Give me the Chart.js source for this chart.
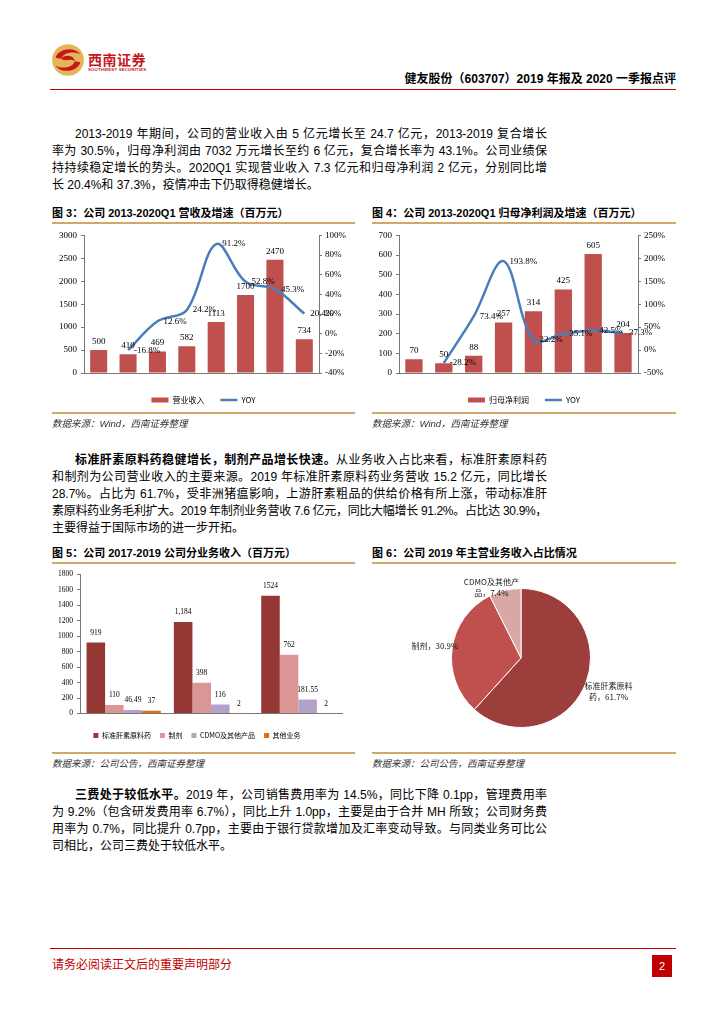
<!DOCTYPE html>
<html lang="zh-CN">
<head>
<meta charset="utf-8">
<title>健友股份（603707）2019 年报及 2020 一季报点评</title>
<script src="https://cdn.jsdelivr.net/npm/chart.js@4.4.1/dist/chart.umd.min.js"></script>
<style>
  html, body { margin: 0; padding: 0; background: #fff; }
  body { width: 724px; height: 1024px; position: relative; overflow: hidden;
         font-family: "Liberation Sans", "Noto Sans CJK SC", sans-serif; color: #000; }
  .abs { position: absolute; white-space: nowrap; }
  .rule { position: absolute; height: 0; }
  .red { border-top: 1.5px solid #C00000; left: 50px; width: 626px; }
  .gold { border-top: 2px solid #D3A76B; }
  .title { position: absolute; font-size: 11px; font-weight: bold; line-height: 14px; white-space: nowrap; }
  .src { position: absolute; font-size: 9.5px; font-style: italic; color: #333; line-height: 12px; white-space: nowrap; }
  .ln { position: absolute; left: 52px; width: 495px; height: 16px; line-height: 16px; font-size: 12px;
        white-space: nowrap; text-align: justify; text-align-last: justify; }
  .ln.ind { left: 75px; width: 472px; }
  .ln.last { text-align-last: left; }
  canvas { position: absolute; }
</style>
</head>
<body>

<!-- header -->
<svg class="abs" style="left:51px;top:43px" width="34" height="34" viewBox="0 0 30 30">
  <circle cx="15" cy="15" r="14" fill="#E4B65A"/>
  <path d="M4 13 C7 4, 21 3, 26 10 C20 7, 11 8, 9 14 Z" fill="#C8161D"/>
  <path d="M26 17 C23 26, 9 27, 4 20 C10 23, 19 22, 21 16 Z" fill="#C8161D"/>
  <path d="M9 14 C11 10, 20 10, 21 16 C17 13, 13 17, 9 14 Z" fill="#C8161D"/>
</svg>
<div class="abs" style="left:88px;top:50px;font:bold 14px 'Noto Sans CJK SC';letter-spacing:0.5px;color:#C8161D;line-height:18px">西南证券</div>
<div class="abs" style="left:88px;top:67px;font:bold 4.3px 'Liberation Sans';letter-spacing:0.2px;color:#C8161D;line-height:6px">SOUTHWEST SECURITIES</div>
<div class="abs" style="right:48px;top:71px;font-size:12px;font-weight:bold;line-height:16px">健友股份（603707）2019 年报及 2020 一季报点评</div>
<div class="rule red" style="top:89px"></div>

<!-- paragraph 1 -->
<div class="ln ind" style="top:126px">2013-2019 年期间，公司的营业收入由 5 亿元增长至 24.7 亿元，2013-2019 复合增长</div>
<div class="ln" style="top:143px">率为 30.5%，归母净利润由 7032 万元增长至约 6 亿元，复合增长率为 43.1%。公司业绩保</div>
<div class="ln" style="top:160px">持持续稳定增长的势头。2020Q1 实现营业收入 7.3 亿元和归母净利润 2 亿元，分别同比增</div>
<div class="ln last" style="top:177px">长 20.4%和 37.3%，疫情冲击下仍取得稳健增长。</div>

<!-- figure 3 / 4 -->
<div class="title" style="left:52px;top:206px">图 3：公司 2013-2020Q1 营收及增速（百万元）</div>
<div class="title" style="left:372px;top:206px">图 4：公司 2013-2020Q1 归母净利润及增速（百万元）</div>
<div class="rule gold" style="left:52px;width:303px;top:222px"></div>
<div class="rule gold" style="left:372px;width:304px;top:222px"></div>
<canvas id="revChart" width="303" height="188" style="left:52px;top:226px"></canvas>
<canvas id="profitChart" width="304" height="188" style="left:372px;top:226px"></canvas>
<div class="rule gold" style="left:52px;width:303px;top:412px"></div>
<div class="rule gold" style="left:372px;width:304px;top:412px"></div>
<div class="src" style="left:52px;top:418px">数据来源：Wind，西南证券整理</div>
<div class="src" style="left:372px;top:418px">数据来源：Wind，西南证券整理</div>

<!-- paragraph 2 -->
<div class="ln ind" style="top:452px"><b>标准肝素原料药稳健增长，制剂产品增长快速。</b>从业务收入占比来看，标准肝素原料药</div>
<div class="ln" style="top:469px">和制剂为公司营业收入的主要来源。2019 年标准肝素原料药业务营收 15.2 亿元，同比增长</div>
<div class="ln" style="top:486px">28.7%。占比为 61.7%，受非洲猪瘟影响，上游肝素粗品的供给价格有所上涨，带动标准肝</div>
<div class="ln" style="top:503px">素原料药业务毛利扩大。2019 年制剂业务营收 7.6 亿元，同比大幅增长 91.2%。占比达 30.9%，</div>
<div class="ln last" style="top:520px">主要得益于国际市场的进一步开拓。</div>

<!-- figure 5 / 6 -->
<div class="title" style="left:52px;top:546px">图 5：公司 2017-2019 公司分业务收入（百万元）</div>
<div class="title" style="left:372px;top:546px">图 6：公司 2019 年主营业务收入占比情况</div>
<div class="rule gold" style="left:52px;width:303px;top:562px"></div>
<div class="rule gold" style="left:372px;width:304px;top:562px"></div>
<canvas id="segChart" width="303" height="183" style="left:52px;top:566px"></canvas>
<canvas id="shareChart" width="304" height="184" style="left:372px;top:566px"></canvas>
<div class="rule gold" style="left:52px;width:303px;top:752px"></div>
<div class="rule gold" style="left:372px;width:304px;top:752px"></div>
<div class="src" style="left:52px;top:758px">数据来源：公司公告，西南证券整理</div>
<div class="src" style="left:372px;top:758px">数据来源：公司公告，西南证券整理</div>

<!-- paragraph 3 -->
<div class="ln ind" style="top:787px"><b>三费处于较低水平。</b>2019 年，公司销售费用率为 14.5%，同比下降 0.1pp，管理费用率</div>
<div class="ln" style="top:804px">为 9.2%（包含研发费用率 6.7%），同比上升 1.0pp，主要是由于合并 MH 所致；公司财务费</div>
<div class="ln" style="top:821px">用率为 0.7%，同比提升 0.7pp，主要由于银行贷款增加及汇率变动导致。与同类业务可比公</div>
<div class="ln last" style="top:838px">司相比，公司三费处于较低水平。</div>

<!-- footer -->
<div class="rule red" style="top:948px"></div>
<div class="abs" style="left:52px;top:957px;font:12px 'Noto Sans CJK SC';line-height:14px;color:#C00000">请务必阅读正文后的重要声明部分</div>
<div class="abs" style="left:652px;top:955px;width:20px;height:22px;background:#C00000;color:#fff;font-size:11px;line-height:22px;text-align:center">2</div>

<script>
    "use strict";

    // Data
    const years = ["2013", "2014", "2015", "2016", "2017", "2018", "2019", "2020Q1"];
    const revenue = [500, 410, 469, 582, 1113, 1700, 2470, 734];
    const revenueYoy = [null, -16.8, 12.6, 24.2, 91.2, 52.8, 45.3, 20.4];
    const netProfit = [70, 50, 88, 257, 314, 425, 605, 204];
    const netProfitYoy = [null, -28.2, 73.4, 193.8, 22.2, 35.1, 42.5, 37.3];

    const segYears = ["2017", "2018", "2019"];
    const segApi = [919, 1184, 1524];
    const segApiText = ["919", "1,184", "1524"];
    const segFormulation = [110, 398, 762];
    const segCdmo = [46.49, 116, 181.55];
    const segOther = [37, 2, 2];

    const shareNames = ["标准肝素原料药", "制剂", "CDMO及其他产品"];
    const shareValues = [61.7, 30.9, 7.4];

    const serif = "'Liberation Serif', 'Times New Roman', serif";
    const cjk = "'Noto Sans CJK SC', sans-serif";
    Chart.defaults.font.family = serif;
    Chart.defaults.color = "#000";
    Chart.defaults.animation = false;

    const plainTick = (v) => String(v);

    // Value labels drawn from the dataset elements
    const valueLabels = {
        id: "valueLabels",
        afterDatasetsDraw(chart) {
            const ctx = chart.ctx;
            chart.data.datasets.forEach((ds, i) => {
                const cfg = ds.valueLabel;
                if (!cfg) return;
                const meta = chart.getDatasetMeta(i);
                ctx.save();
                ctx.font = cfg.font;
                ctx.fillStyle = cfg.color || "#000";
                meta.data.forEach((el, j) => {
                    const v = ds.data[j];
                    if (v === null || v === undefined) return;
                    const text = cfg.text ? cfg.text(v, j) : String(v);
                    if (meta.type === "bar") {
                        ctx.textAlign = "center";
                        ctx.textBaseline = "bottom";
                        ctx.fillText(text, el.x, el.y - cfg.offset);
                    } else if (meta.type === "line") {
                        ctx.textAlign = "left";
                        ctx.textBaseline = "middle";
                        ctx.fillText(text, el.x + cfg.offset, el.y);
                    } else {
                        const mid = (el.startAngle + el.endAngle) / 2;
                        const f = cfg.radial[j];
                        const sh = cfg.shift[j];
                        const cx = el.x + Math.cos(mid) * el.outerRadius * f + sh[0];
                        const cy = el.y + Math.sin(mid) * el.outerRadius * f + sh[1];
                        const lines = wrapText(ctx, text, cfg.maxWidth);
                        ctx.textAlign = "center";
                        ctx.textBaseline = "middle";
                        lines.forEach((t, k) => {
                            ctx.fillText(t, cx, cy + (k - (lines.length - 1) / 2) * cfg.lineHeight);
                        });
                    }
                });
                ctx.restore();
            });
        },
    };

    function wrapText(ctx, text, maxWidth) {
        const out = [];
        let line = "";
        for (const ch of text) {
            if (line && ctx.measureText(line + ch).width > maxWidth) {
                out.push(line);
                line = ch;
            } else {
                line += ch;
            }
        }
        if (line) out.push(line);
        return out;
    }

    function comboChart(canvas, values, yoy, name, left, leftW, rightMin, rightMax, rightStep, rightW) {
        return new Chart(canvas, {
            data: {
                labels: years,
                datasets: [
                    {
                        type: "bar",
                        label: name,
                        data: values,
                        order: 1,
                        backgroundColor: "#C0504D",
                        borderWidth: 0,
                        pointStyle: "rect",
                        categoryPercentage: 1,
                        barPercentage: 0.58,
                        yAxisID: "y",
                        valueLabel: { font: "9px " + serif, offset: 4 },
                    },
                    {
                        type: "line",
                        label: "YOY",
                        data: yoy,
                        order: 0,
                        borderColor: "#4A7EBB",
                        backgroundColor: "#4A7EBB",
                        borderWidth: 2.5,
                        pointRadius: 0,
                        pointStyle: "line",
                        tension: 0.35,
                        spanGaps: true,
                        yAxisID: "y1",
                        valueLabel: { font: "9px " + serif, offset: 6, text: (v) => v + "%" },
                    },
                ],
            },
            options: {
                responsive: false,
                events: [],
                layout: { padding: { top: 7, left: 0, right: 0, bottom: 0 } },
                plugins: {
                    tooltip: { enabled: false },
                    legend: {
                        position: "bottom",
                        labels: {
                            font: { family: cjk, size: 8 },
                            usePointStyle: true,
                            pointStyleWidth: 17,
                            boxHeight: 5,
                            padding: 16,
                            sort: (a, b) => a.datasetIndex - b.datasetIndex,
                        },
                    },
                },
                scales: {
                    x: {
                        afterFit: (s) => { s.height = 7; },
                        ticks: { font: { size: 9 }, padding: 5 },
                        grid: { display: false },
                        border: { color: "#777" },
                    },
                    y: {
                        position: "left",
                        min: 0,
                        max: left.max,
                        afterFit: (s) => { s.width = leftW; },
                        ticks: { stepSize: left.step, font: { size: 9 }, padding: 4, callback: plainTick },
                        grid: { drawOnChartArea: false, tickLength: 3, color: "#777" },
                        border: { color: "#777" },
                    },
                    y1: {
                        position: "right",
                        min: rightMin,
                        max: rightMax,
                        afterFit: (s) => { s.width = rightW; },
                        ticks: { stepSize: rightStep, font: { size: 9 }, padding: 3, callback: (v) => v + "%" },
                        grid: { drawOnChartArea: false, tickLength: 3, color: "#777" },
                        border: { color: "#777" },
                    },
                },
            },
            plugins: [valueLabels],
        });
    }

    comboChart(document.getElementById("revChart"), revenue, revenueYoy, "营业收入",
        { max: 3000, step: 500 }, 32, -40, 100, 20, 36);
    comboChart(document.getElementById("profitChart"), netProfit, netProfitYoy, "归母净利润",
        { max: 700, step: 100 }, 27, -50, 250, 50, 38);

    // Figure 5: segment revenue
    const segLabel = (text) => ({ font: "7.5px " + serif, offset: 6, text });
    new Chart(document.getElementById("segChart"), {
        type: "bar",
        data: {
            labels: segYears,
            datasets: [
                { label: "标准肝素原料药", data: segApi, backgroundColor: "#953735", valueLabel: segLabel((v, j) => segApiText[j]) },
                { label: "制剂", data: segFormulation, backgroundColor: "#D99694", valueLabel: segLabel() },
                { label: "CDMO及其他产品", data: segCdmo, backgroundColor: "#B3A2C7", valueLabel: segLabel() },
                { label: "其他业务", data: segOther, backgroundColor: "#E46C0A", valueLabel: segLabel() },
            ],
        },
        options: {
            responsive: false,
            events: [],
            datasets: { bar: { categoryPercentage: 0.85, barPercentage: 1, borderWidth: 0 } },
            layout: { padding: { top: 7, left: 0, right: 13, bottom: 0 } },
            plugins: {
                tooltip: { enabled: false },
                legend: {
                    position: "bottom",
                    labels: { font: { family: cjk, size: 7 }, boxWidth: 5, boxHeight: 5, padding: 9 },
                },
            },
            scales: {
                x: {
                    afterFit: (s) => { s.height = 9.5; },
                    ticks: { font: { size: 7.5 }, padding: 5 },
                    grid: { display: false },
                    border: { color: "#777" },
                },
                y: {
                    min: 0,
                    max: 1800,
                    afterFit: (s) => { s.width = 28; },
                    ticks: { stepSize: 200, font: { size: 7.5 }, padding: 4, callback: plainTick },
                    grid: { drawOnChartArea: false, tickLength: 3, color: "#777" },
                    border: { color: "#777" },
                },
            },
        },
        plugins: [valueLabels],
    });

    // Figure 6: 2019 revenue share
    new Chart(document.getElementById("shareChart"), {
        type: "pie",
        data: {
            labels: shareNames,
            datasets: [
                {
                    data: shareValues,
                    backgroundColor: ["#9C3E3C", "#C0504D", "#D9A7A6"],
                    borderColor: "#fff",
                    borderWidth: 1,
                    valueLabel: {
                        font: "8px " + cjk,
                        color: "#222",
                        maxWidth: 55.9,
                        lineHeight: 11,
                        radial: [1.35, 1.25, 1.1],
                        shift: [[0, 0], [0, 0], [-12, 4]],
                        text: (v, j) => shareNames[j] + "，" + v.toFixed(1) + "%",
                    },
                },
            ],
        },
        options: {
            responsive: false,
            events: [],
            layout: { padding: { left: 79, right: 85, top: 22, bottom: 22 } },
            plugins: { legend: { display: false }, tooltip: { enabled: false } },
        },
        plugins: [valueLabels],
    });

    // Squeeze body lines that run past the column
    document.querySelectorAll(".ln").forEach((el) => {
        const over = el.scrollWidth - el.clientWidth;
        if (over > 0) {
            el.style.letterSpacing = (-(over + 2) / el.textContent.length).toFixed(3) + "px";
        }
    });
</script>
</body>
</html>
